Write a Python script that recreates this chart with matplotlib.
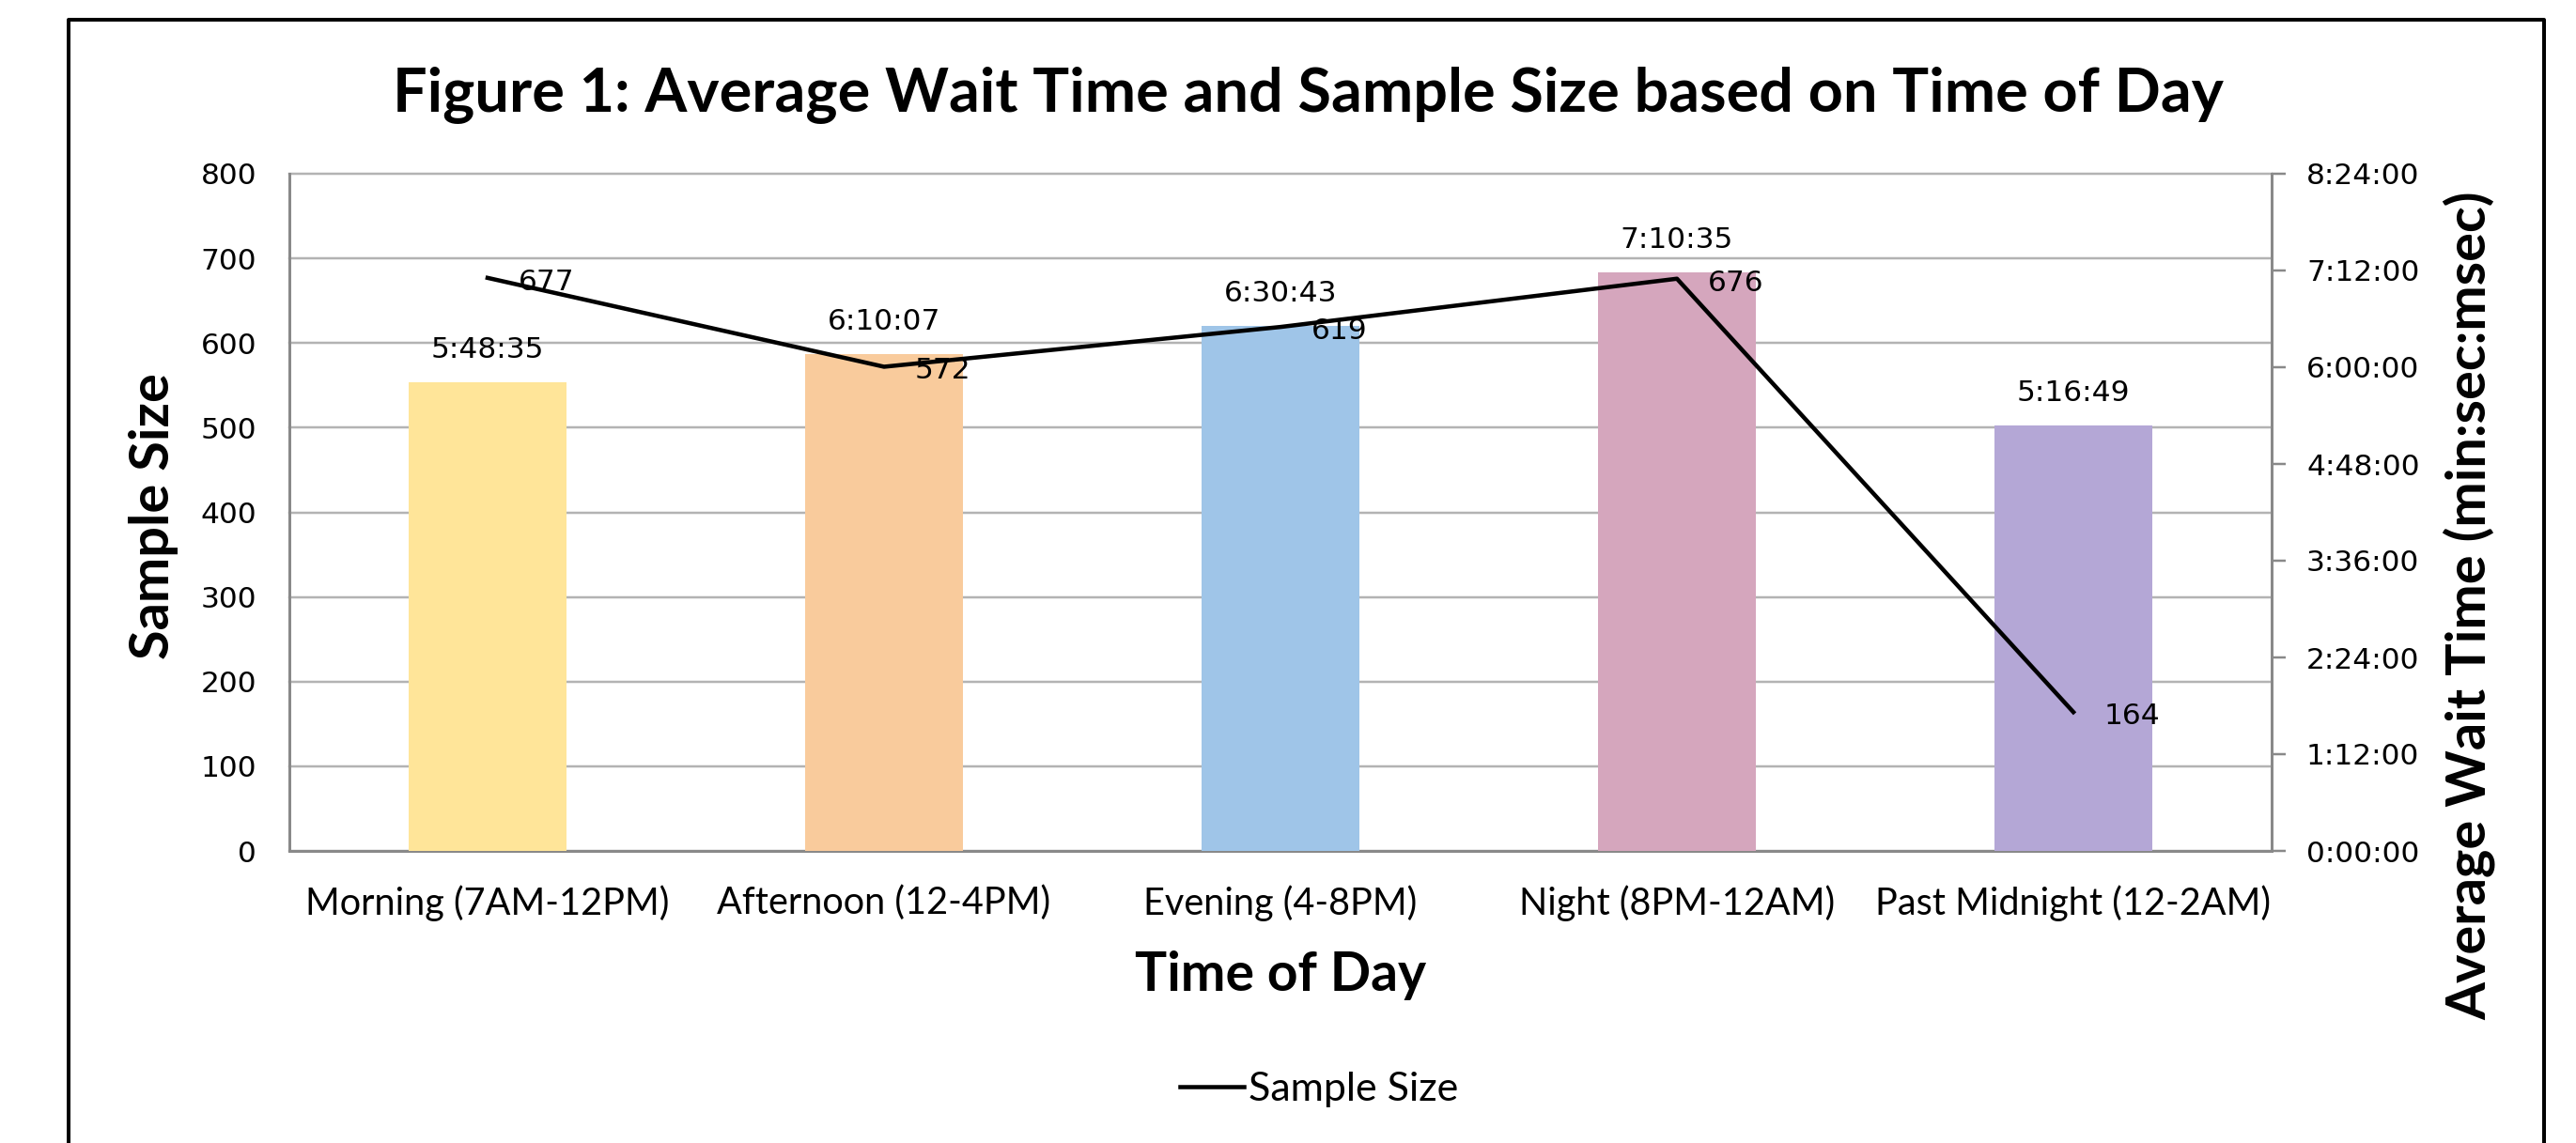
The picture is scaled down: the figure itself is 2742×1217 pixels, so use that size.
import numpy as np
import matplotlib
matplotlib.use("Agg")
import matplotlib.pyplot as plt
from matplotlib.lines import Line2D
from matplotlib.ticker import FixedLocator, FuncFormatter

# data
categories = ["Morning (7AM-12PM)", "Afternoon (12-4PM)", "Evening (4-8PM)",
              "Night (8PM-12AM)", "Past Midnight (12-2AM)"]
wait_times = ["5:48:35", "6:10:07", "6:30:43", "7:10:35", "5:16:49"]
sample_size = [677, 572, 619, 676, 164]
bar_colors = ["#FFE599", "#F9CB9C", "#9FC5E8", "#D5A6BD", "#B4A7D6"]

left_ticks = list(range(0, 801, 100))
right_ticks = list(range(0, 30241, 4320))  # 0:00:00 .. 8:24:00 (h:mm:ss)


def to_sec(s):
    h, m, sec = [int(p) for p in s.split(":")]
    return h * 3600 + m * 60 + sec


def fmt_time(v, pos=None):
    v = int(round(v))
    return f"{v // 3600}:{(v % 3600) // 60:02d}:{v % 60:02d}"


wait_sec = [to_sec(w) for w in wait_times]

W, H = 2742, 1217
DPI = 100
PX = 72 / DPI  # points per pixel

CAL = "Lato"          # stand-in for Calibri
VER = "DejaVu Sans"   # stand-in for Verdana
GRID = "#B3B3B3"
AXC = "#898989"

fig = plt.figure(figsize=(W / DPI, H / DPI), dpi=DPI)
fig.patch.set_facecolor("white")

# outer frame (bottom edge runs off the image)
frame_kw = dict(color="black", lw=4 * PX, transform=fig.transFigure)
fig.add_artist(Line2D([73 / W, 73 / W, 2708 / W, 2708 / W],
                      [0, 1 - 21 / H, 1 - 21 / H, 0], **frame_kw))

x0, x1, y0, y1 = 308, 2418, 185, 906
rect = [x0 / W, 1 - y1 / H, (x1 - x0) / W, (y1 - y0) / H]
x = np.arange(len(categories))

# base axes: left scale, grid, categories
ax = fig.add_axes(rect)
ax.set_xlim(-0.5, len(categories) - 0.5)
ax.set_ylim(0, 800)
ax.yaxis.set_major_locator(FixedLocator(left_ticks))
ax.grid(axis="y", color=GRID, lw=2.5 * PX)
ax.set_axisbelow(True)
for gl in ax.get_ygridlines():
    gl.set_clip_on(False)
ax.set_xticks(x)
ax.set_xticklabels(categories, fontfamily=CAL, fontsize=28.5)
ax.tick_params(axis="x", length=0, pad=36 * PX)
ax.tick_params(axis="y", length=0, pad=35 * PX, labelsize=22.5, labelcolor="black")
for t in ax.get_yticklabels():
    t.set_fontfamily(VER)
for sp in ["top", "right"]:
    ax.spines[sp].set_visible(False)
for sp in ["left", "bottom"]:
    ax.spines[sp].set_color(AXC)
    ax.spines[sp].set_linewidth(3 * PX)

# bars on the right (time) scale
axb = ax.twinx()
axb.set_ylim(0, right_ticks[-1])
axb.bar(x, wait_sec, width=0.4, color=bar_colors, zorder=2)
axb.yaxis.set_major_locator(FixedLocator(right_ticks))
axb.yaxis.set_major_formatter(FuncFormatter(fmt_time))
axb.tick_params(axis="y", direction="out", length=15 * PX, width=2.5 * PX,
                color=AXC, pad=22 * PX, labelsize=22.5)
for t in axb.get_yticklabels():
    t.set_fontfamily(VER)
for sp in ["top", "left", "bottom"]:
    axb.spines[sp].set_visible(False)
axb.spines["right"].set_color(AXC)
axb.spines["right"].set_linewidth(3 * PX)
for xi, v, lab in zip(x, wait_sec, wait_times):
    axb.annotate(lab, (xi, v), xytext=(0, 26 * PX), textcoords="offset points",
                 ha="center", va="baseline", fontfamily=VER, fontsize=22.5)

# line on the left (sample size) scale
axl = ax.twinx()
axl.set_ylim(0, 800)
axl.set_yticks([])
for sp in axl.spines.values():
    sp.set_visible(False)
ln, = axl.plot(x, sample_size, color="black", lw=4.5 * PX, label="Sample Size")
for xi, v in zip(x, sample_size):
    axl.annotate(str(v), (xi, v), xytext=(33 * PX, -13 * PX), textcoords="offset points",
                 ha="left", va="baseline", fontfamily=VER, fontsize=22.5)

# titles and axis labels
fig.text(1392 / W, 1 - 119 / H, "Figure 1: Average Wait Time and Sample Size based on Time of Day",
         ha="center", va="baseline", fontfamily=CAL, fontweight="bold", fontsize=46.6)
fig.text(1363 / W, 1 - 1055 / H, "Time of Day", ha="center", va="baseline",
         fontfamily=CAL, fontweight="bold", fontsize=41)
fig.text(164 / W, 1 - 550 / H, "Sample Size", ha="center", va="center", rotation=90,
         fontfamily=CAL, fontweight="bold", fontsize=41.5)
fig.text(2628 / W, 1 - 645 / H, "Average Wait Time (min:sec:msec)", ha="center", va="center",
         rotation=90, fontfamily=CAL, fontweight="bold", fontsize=41.5)

fs_leg = 31
fs_px = fs_leg / PX
fig.legend(handles=[ln], loc="center left", bbox_to_anchor=(1256 / W, 1 - 1160 / H),
           frameon=False, borderpad=0, borderaxespad=0, handlelength=68 / fs_px,
           handletextpad=5 / fs_px, prop={"family": CAL, "size": fs_leg})

fig.savefig("out.png", dpi=DPI, facecolor="white")
